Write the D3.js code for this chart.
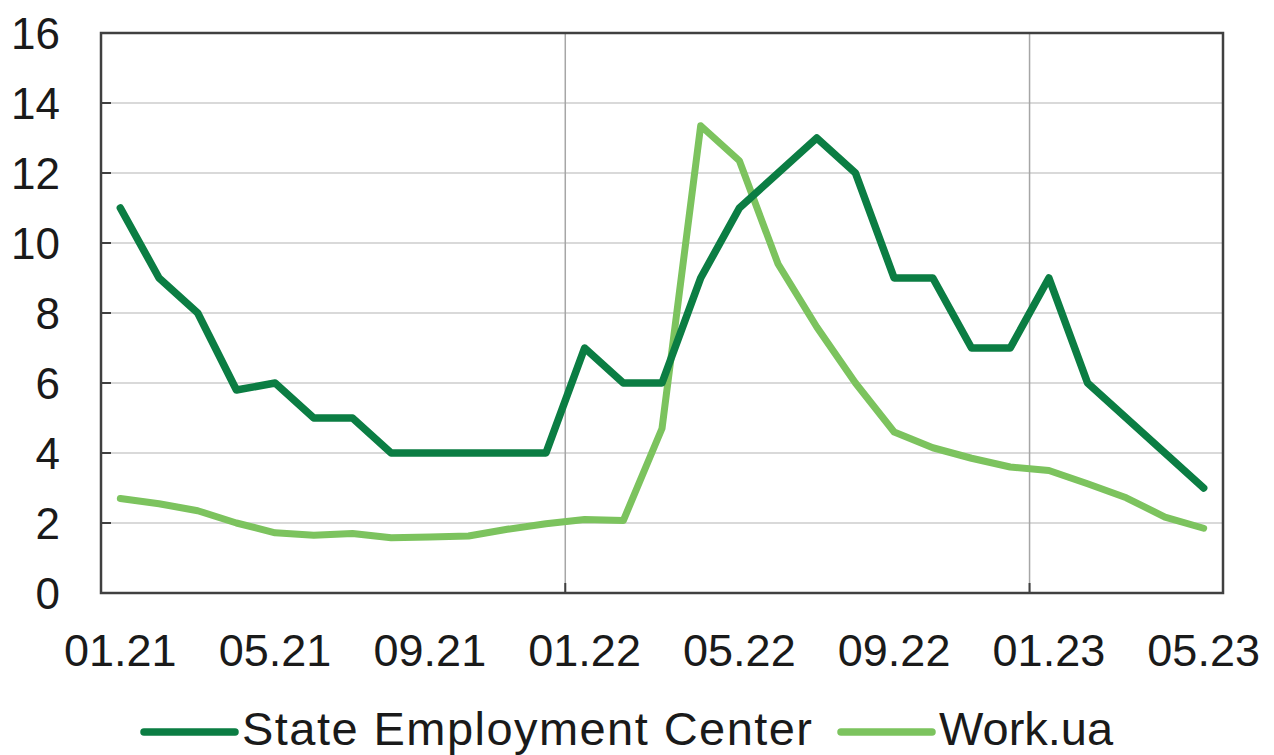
<!DOCTYPE html>
<html>
<head>
<meta charset="utf-8">
<script src="https://cdn.jsdelivr.net/npm/d3@7"></script>
<style>
  html, body { margin: 0; padding: 0; background: #fff; }
  svg { display: block; font-family: "Liberation Sans", Arial, sans-serif; }
</style>
</head>
<body>
<svg id="chart" width="1274" height="755"></svg>
<script>
// monthly categories 01.21 .. 05.23
const months = [
  '01.21', '02.21', '03.21', '04.21', '05.21', '06.21', '07.21', '08.21', '09.21', '10.21', '11.21', '12.21',
  '01.22', '02.22', '03.22', '04.22', '05.22', '06.22', '07.22', '08.22', '09.22', '10.22', '11.22', '12.22',
  '01.23', '02.23', '03.23', '04.23', '05.23'
];
const stateCenter = [
  11, 9, 8, 5.8, 6, 5, 5, 4, 4, 4, 4, 4,
  7, 6, 6, 9, 11, 12, 13, 12, 9, 9, 7, 7,
  9, 6, 5, 4, 3
];
const workUa = [
  2.7, 2.55, 2.35, 2.0, 1.72, 1.65, 1.7, 1.58, 1.6, 1.63, 1.82, 1.98,
  2.1, 2.07, 4.7, 13.35, 12.35, 9.4, 7.6, 6.0, 4.6, 4.15, 3.85, 3.6,
  3.5, 3.12, 2.72, 2.17, 1.85
];
const yTicks = [0, 2, 4, 6, 8, 10, 12, 14, 16];
const xLabelEvery = 4;
const yearBreaks = ['01.22', '01.23'];
const seriesNames = ['State Employment Center', 'Work.ua'];

const colors = { state: '#0b7d43', work: '#7cc35e' };

const svg = d3.select('#chart');
const plot = { left: 101, right: 1223, top: 33, bottom: 593 };

const x = d3.scaleBand().domain(months).range([plot.left, plot.right]);
const xc = (m) => x(m) + x.bandwidth() / 2;
const y = d3.scaleLinear().domain([0, 16]).range([plot.bottom, plot.top]);

// horizontal gridlines
svg.append('g')
  .selectAll('line')
  .data(yTicks.filter((d) => d > 0 && d < 16))
  .join('line')
  .attr('x1', plot.left).attr('x2', plot.right)
  .attr('y1', (d) => y(d)).attr('y2', (d) => y(d))
  .attr('stroke', '#d9d9d9')
  .attr('stroke-width', 2);

// vertical lines at year boundaries
svg.append('g')
  .selectAll('line')
  .data(yearBreaks)
  .join('line')
  .attr('x1', (d) => x(d)).attr('x2', (d) => x(d))
  .attr('y1', plot.top).attr('y2', plot.bottom)
  .attr('stroke', '#a6a6a6')
  .attr('stroke-width', 1.5);

// small tick marks at the year boundaries on the bottom axis
svg.append('g')
  .selectAll('line')
  .data(yearBreaks)
  .join('line')
  .attr('x1', (d) => x(d)).attr('x2', (d) => x(d))
  .attr('y1', plot.bottom - 10).attr('y2', plot.bottom)
  .attr('stroke', '#404040')
  .attr('stroke-width', 2);

// left axis tick marks (inside)
svg.append('g')
  .selectAll('line')
  .data(yTicks)
  .join('line')
  .attr('x1', plot.left).attr('x2', plot.left + 10)
  .attr('y1', (d) => y(d)).attr('y2', (d) => y(d))
  .attr('stroke', '#404040')
  .attr('stroke-width', 2);

// plot frame
svg.append('rect')
  .attr('x', plot.left).attr('y', plot.top)
  .attr('width', plot.right - plot.left).attr('height', plot.bottom - plot.top)
  .attr('fill', 'none')
  .attr('stroke', '#404040')
  .attr('stroke-width', 2.5);

// y labels
svg.append('g')
  .selectAll('text')
  .data(yTicks)
  .join('text')
  .attr('x', 60)
  .attr('y', (d) => y(d))
  .attr('dy', '0.36em')
  .attr('text-anchor', 'end')
  .attr('font-size', 44)
  .attr('fill', '#1a1a1a')
  .text((d) => d);

// x labels
svg.append('g')
  .selectAll('text')
  .data(months.filter((d, i) => i % xLabelEvery === 0))
  .join('text')
  .attr('x', (d) => xc(d))
  .attr('y', 650)
  .attr('dy', '0.36em')
  .attr('text-anchor', 'middle')
  .attr('font-size', 45)
  .attr('fill', '#1a1a1a')
  .text((d) => d);

const line = d3.line()
  .x((d) => xc(d.m))
  .y((d) => y(d.v));

const toPoints = (vals) => vals.map((v, i) => ({ m: months[i], v }));

svg.append('path')
  .datum(toPoints(workUa))
  .attr('d', line)
  .attr('fill', 'none')
  .attr('stroke', colors.work)
  .attr('stroke-width', 7)
  .attr('stroke-linejoin', 'round')
  .attr('stroke-linecap', 'round');

svg.append('path')
  .datum(toPoints(stateCenter))
  .attr('d', line)
  .attr('fill', 'none')
  .attr('stroke', colors.state)
  .attr('stroke-width', 7.5)
  .attr('stroke-linejoin', 'round')
  .attr('stroke-linecap', 'round');

// legend
const legend = [
  { name: seriesNames[0], color: colors.state, x0: 144, len: 570 },
  { name: seriesNames[1], color: colors.work, x0: 841, len: null }
];
const lg = svg.append('g');
legend.forEach((d) => {
  lg.append('line')
    .attr('x1', d.x0).attr('x2', d.x0 + 91)
    .attr('y1', 732).attr('y2', 732)
    .attr('stroke', d.color)
    .attr('stroke-width', 7.5)
    .attr('stroke-linecap', 'round');
  const t = lg.append('text')
    .attr('x', d.x0 + 98)
    .attr('y', 745)
    .attr('font-size', 47)
    .attr('fill', '#1a1a1a')
    .text(d.name);
  if (d.len) t.attr('textLength', d.len).attr('lengthAdjust', 'spacing');
});
</script>
</body>
</html>
